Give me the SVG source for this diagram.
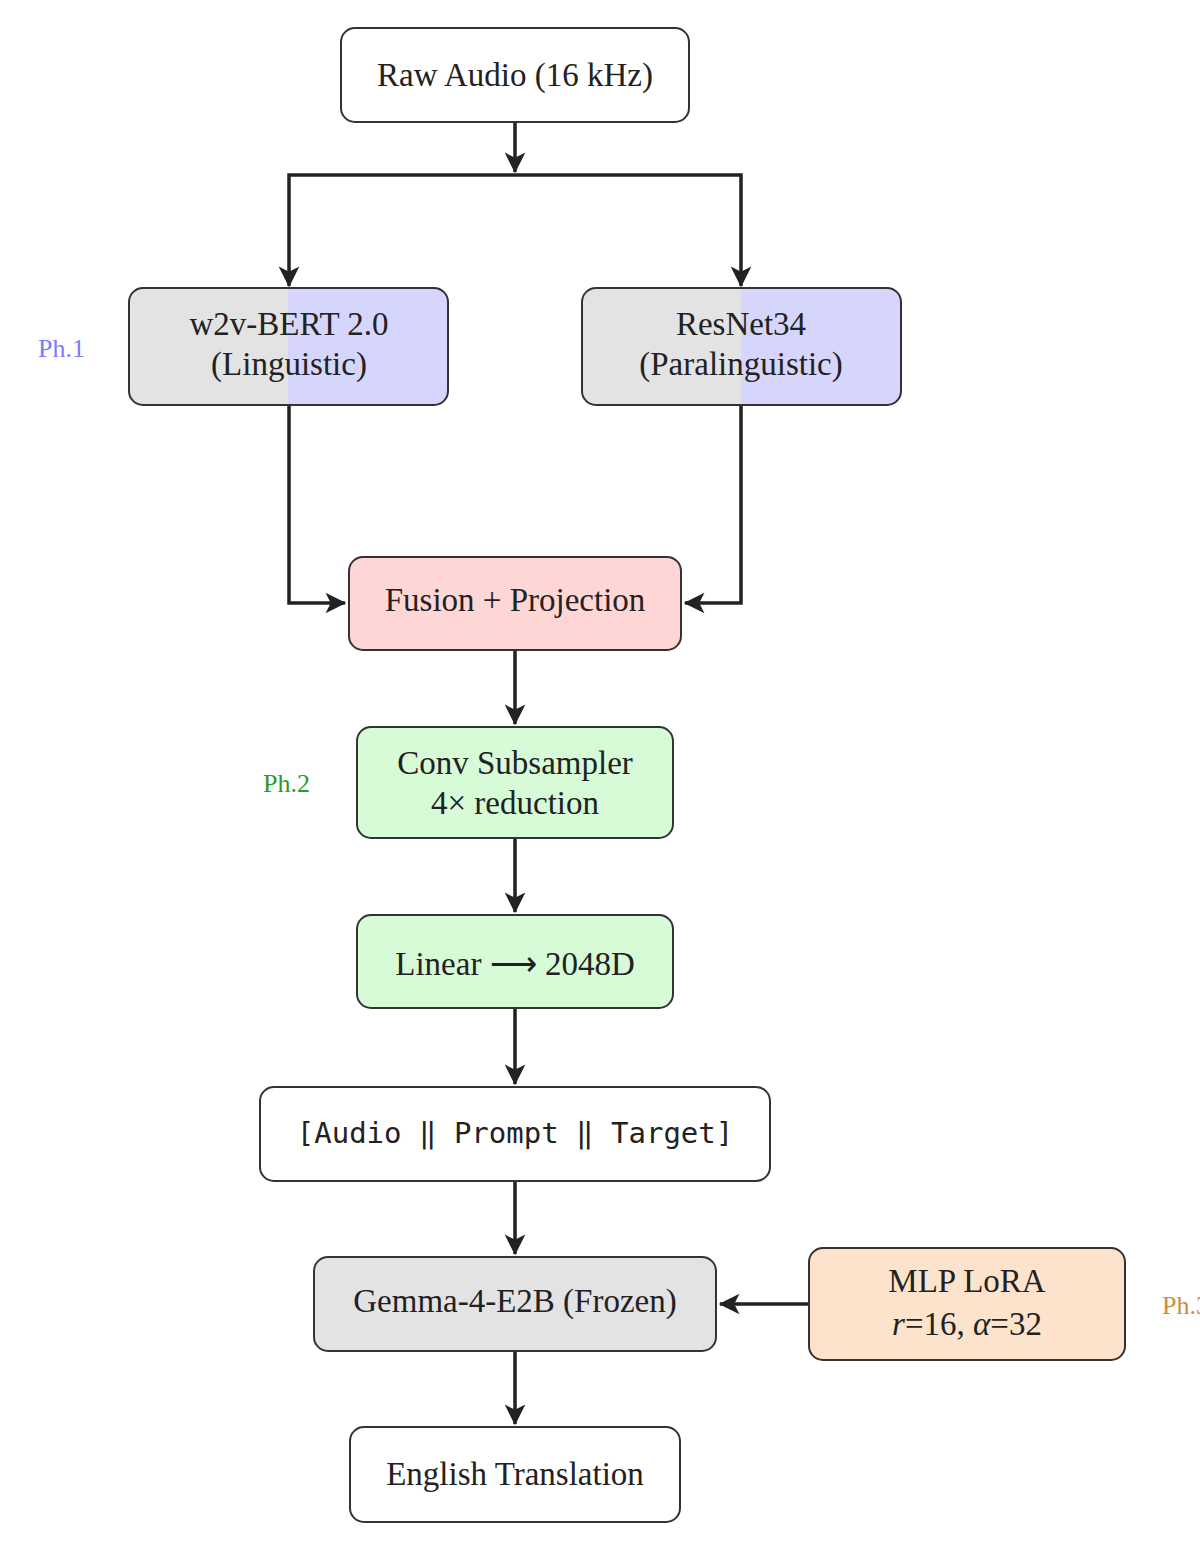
<svg xmlns="http://www.w3.org/2000/svg" width="1200" height="1552" viewBox="0 0 1200 1552">
<style>
.b{stroke:#333;stroke-width:2;}
.t{font-family:"Liberation Serif",serif;font-size:33px;fill:#222;text-anchor:middle;}
.m{font-family:"DejaVu Sans Mono","Liberation Mono",monospace;font-size:29px;fill:#222;text-anchor:middle;}
.c{stroke:#222;stroke-width:3.5;fill:none;marker-end:url(#a);}
.p{font-family:"Liberation Serif",serif;font-size:26px;}
</style>
<defs>
<marker id="a" viewBox="0 0 12 12" refX="11" refY="6" markerWidth="9" markerHeight="9" markerUnits="userSpaceOnUse" orient="auto" style="overflow:visible">
<path d="M0,0 L12,6 L0,12 L3,6 Z" fill="#222" transform="scale(2.3) translate(-6.5,-3.4)"/>
</marker>
<linearGradient id="gb" x1="0" x2="1"><stop offset="0.5" stop-color="#e3e3e3"/><stop offset="0.5" stop-color="#d6d6fc"/></linearGradient>
</defs>
<rect width="1200" height="1552" fill="#fff"/>
<g id="connectors">
<path class="c" d="M515,122 V172"/>
<path class="c" d="M515,175 H289 V286"/>
<path class="c" d="M515,175 H741 V286"/>
<path class="c" d="M289,405 V603 H345"/>
<path class="c" d="M741,405 V603 H685"/>
<path class="c" d="M515,650 V724"/>
<path class="c" d="M515,838 V912"/>
<path class="c" d="M515,1008 V1084"/>
<path class="c" d="M515,1181 V1254"/>
<path class="c" d="M809,1304 H720"/>
<path class="c" d="M515,1351 V1424"/>
</g>
<g id="raw"><rect class="b" x="341" y="28" width="348" height="94" rx="14" fill="#fff"/><text class="t" x="515" y="86">Raw Audio (16 kHz)</text></g>
<g id="w2v"><rect class="b" x="129" y="288" width="319" height="117" rx="14" fill="url(#gb)"/><text class="t" x="289" y="335">w2v-BERT 2.0</text><text class="t" x="289" y="375">(Linguistic)</text></g>
<g id="resnet"><rect class="b" x="582" y="288" width="319" height="117" rx="14" fill="url(#gb)"/><text class="t" x="741" y="335">ResNet34</text><text class="t" x="741" y="375">(Paralinguistic)</text></g>
<g id="ph1"><text class="p" x="38" y="357" fill="#7a7aff">Ph.1</text></g>
<g id="fusion"><rect class="b" x="349" y="557" width="332" height="93" rx="14" fill="#ffd6d6"/><text class="t" x="515" y="611">Fusion + Projection</text></g>
<g id="conv"><rect class="b" x="357" y="727" width="316" height="111" rx="14" fill="#d6fbd6"/><text class="t" x="515" y="774">Conv Subsampler</text><text class="t" x="515" y="814">4× reduction</text></g>
<g id="ph2"><text class="p" x="263" y="792" fill="#2a9a2a">Ph.2</text></g>
<g id="linear"><rect class="b" x="357" y="915" width="316" height="93" rx="14" fill="#d6fbd6"/><text class="t" x="515" y="975">Linear ⟶ 2048D</text></g>
<g id="seq"><rect class="b" x="260" y="1087" width="510" height="94" rx="14" fill="#fff"/><text class="m" x="515" y="1143">[Audio ‖ Prompt ‖ Target]</text></g>
<g id="gemma"><rect class="b" x="314" y="1257" width="402" height="94" rx="14" fill="#e3e3e3"/><text class="t" x="515" y="1312">Gemma-4-E2B (Frozen)</text></g>
<g id="lora"><rect class="b" x="809" y="1248" width="316" height="112" rx="14" fill="#fde3cc"/><text class="t" x="967" y="1292">MLP LoRA</text><text class="t" x="967" y="1335"><tspan font-style="italic">r</tspan>=16, <tspan font-style="italic">α</tspan>=32</text></g>
<g id="ph3"><text class="p" x="1162" y="1314" fill="#d08a3a">Ph.3</text></g>
<g id="out"><rect class="b" x="350" y="1427" width="330" height="95" rx="14" fill="#fff"/><text class="t" x="515" y="1485">English Translation</text></g>
</svg>
